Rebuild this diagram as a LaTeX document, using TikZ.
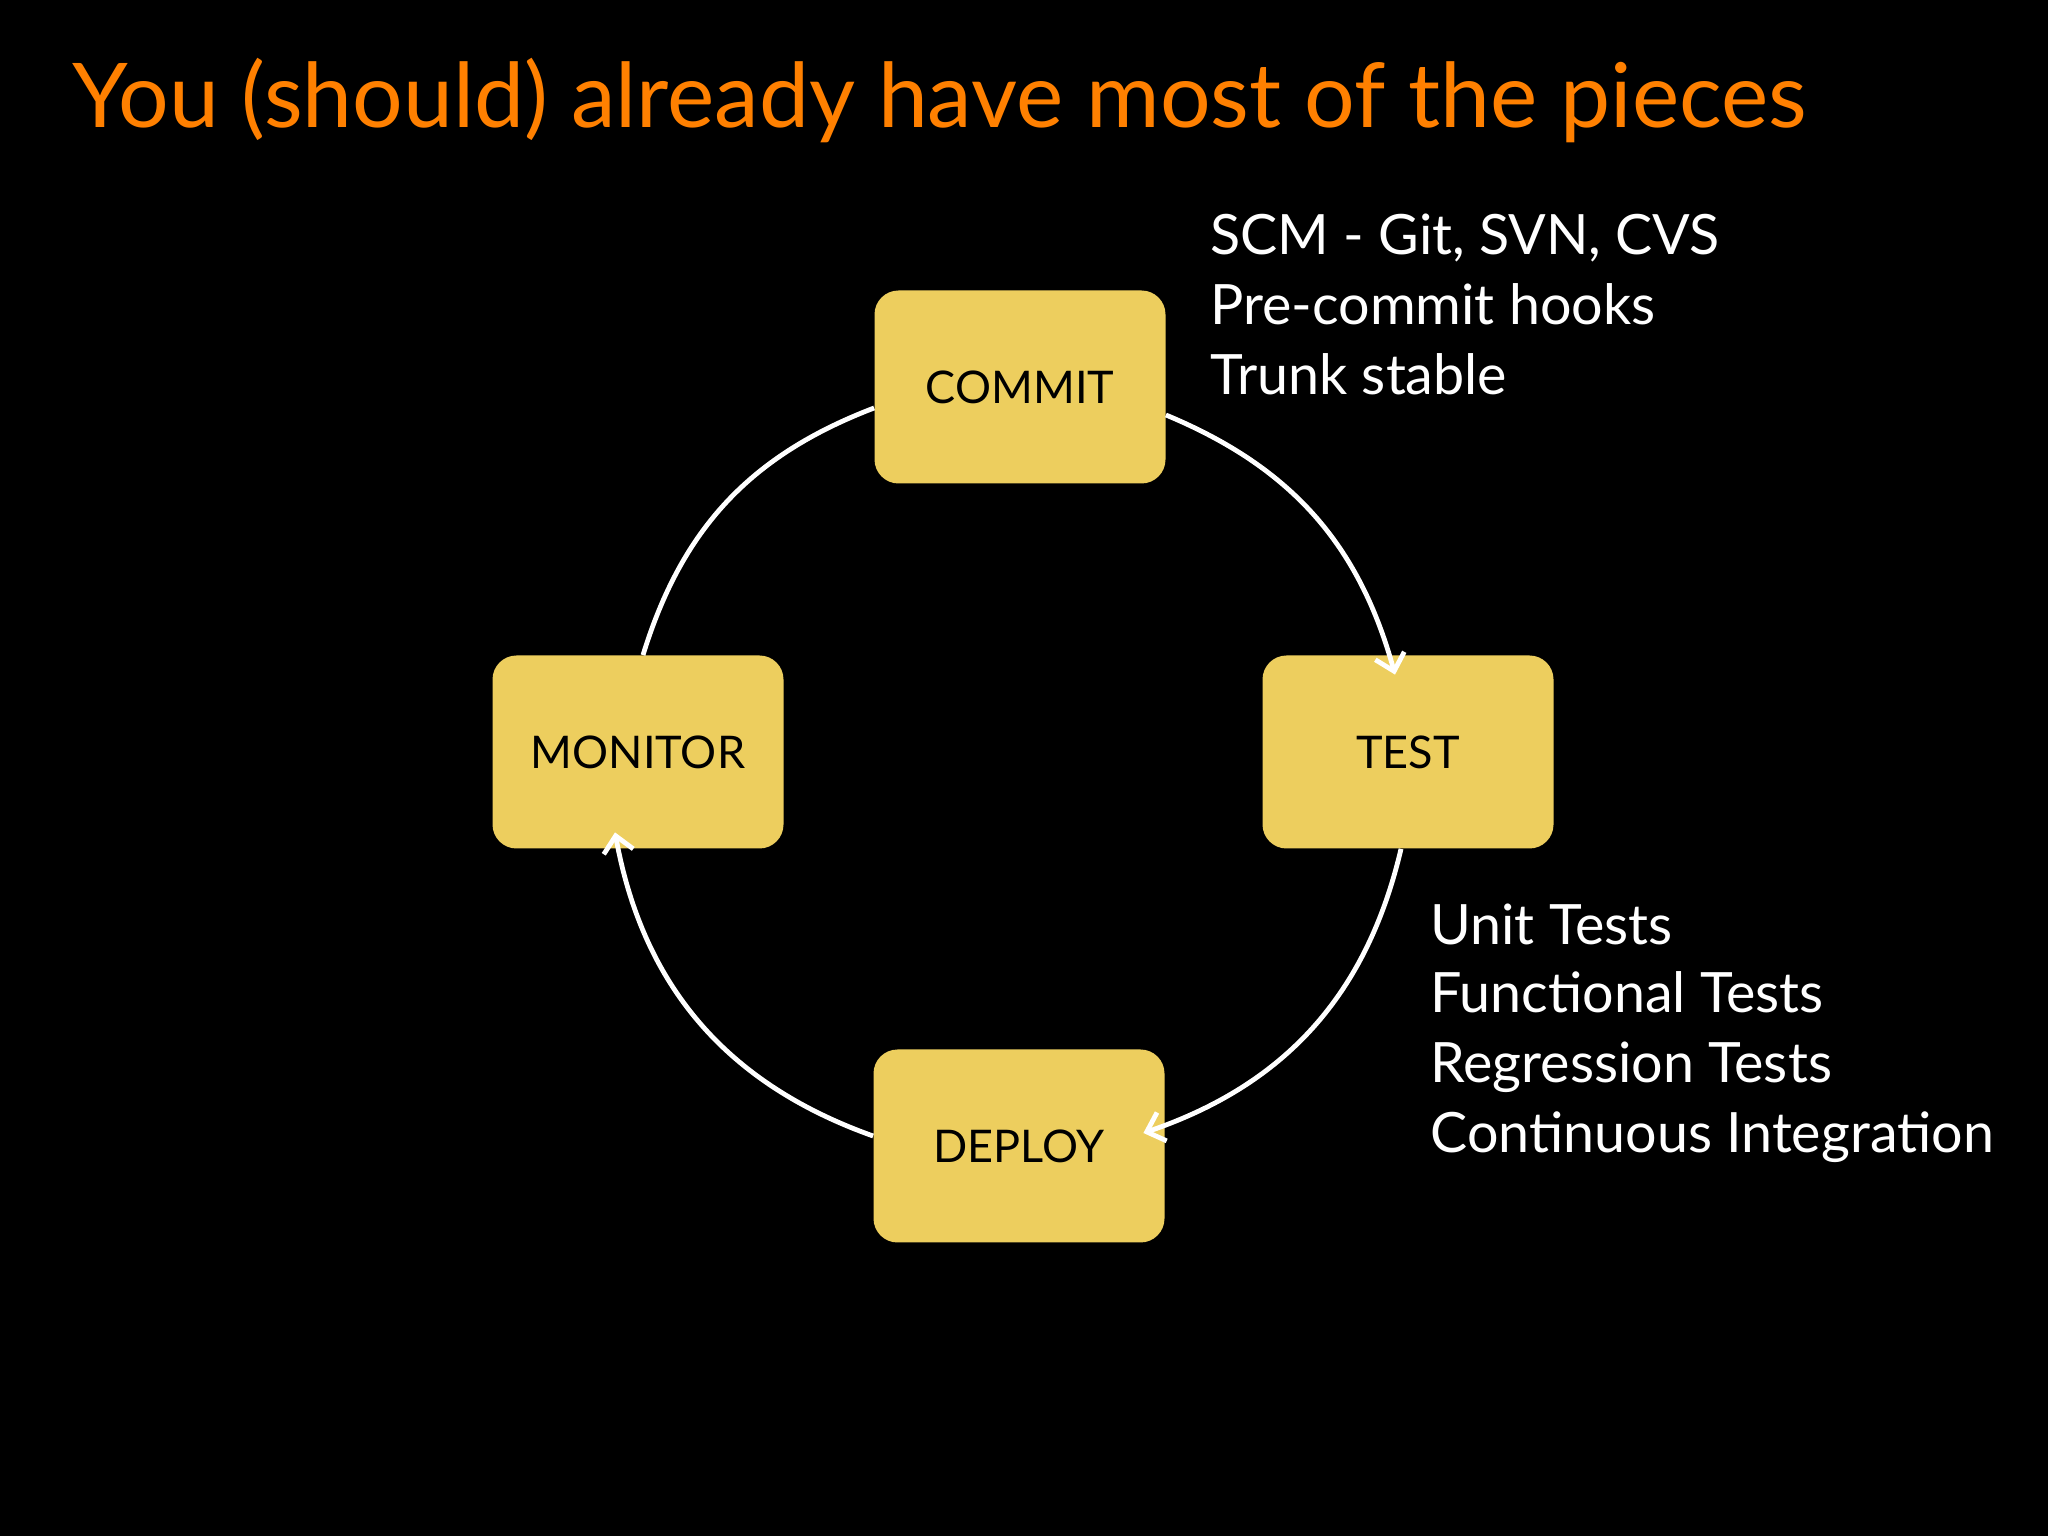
\documentclass[tikz,border=0pt]{standalone}
\usepackage{fontspec}
\setmainfont{Lato}
\usetikzlibrary{arrows.meta}
\definecolor{boxyellow}{RGB}{237,206,94}
\definecolor{titleorange}{RGB}{255,128,0}
\begin{document}
\begin{tikzpicture}[x=0.5pt,y=0.5pt,
  stage/.style={fill=boxyellow, rounded corners=12pt, minimum width=145.5pt, minimum height=96.5pt, inner sep=0pt, font=\fontsize{22.5}{26}\selectfont, text=black},
  flow/.style={draw=white, line width=2.4pt, -{Straight Barb[length=8pt,width=15pt,line width=2.4pt]}},
  loopline/.style={draw=white, line width=2.4pt},
  note/.style={anchor=base west, text=white, font=\fontsize{27.8}{32}\selectfont, inner sep=0pt},
]
\fill[black] (0,0) rectangle (2048,1536);
\useasboundingbox (0,0) rectangle (2048,1536);

\node[anchor=base west, text=titleorange, font=\fontsize{44.7}{50}\selectfont, inner sep=0pt] (title) at (72,1408) {You (should) already have most of the pieces};

\node[stage] (commit) at (1020,1149) {COMMIT};
\node[stage] (test) at (1408,784) {TEST};
\node[stage] (monitor) at (638,784) {MONITOR};
\node[stage] (deploy) at (1019,390) {DEPLOY};

\draw[flow] ([yshift=-14pt]commit.east) to[bend left=26] ([xshift=-6.5pt,yshift=-9.75pt]test.north);
\draw[flow] ([xshift=-3.5pt]test.south) to[bend left=29] ([xshift=-10.75pt,yshift=6.5pt]deploy.east);
\draw[flow] ([yshift=5pt]deploy.west) to[bend left=30] ([xshift=-11.5pt,yshift=8.25pt]monitor.south);
\draw[loopline] ([xshift=2.5pt]monitor.north) to[bend left=26] ([yshift=-10.5pt]commit.west);

\node[note] (scm) at (1210,1281) {SCM - Git, SVN, CVS};
\node[note] (hooks) at (1210,1211) {Pre-commit hooks};
\node[note] (trunk) at (1210,1141) {Trunk stable};

\node[note] (unit) at (1430,591) {Unit Tests};
\node[note] (func) at (1430,523) {Functional Tests};
\node[note] (regr) at (1430,453) {Regression Tests};
\node[note] (ci) at (1430,383) {Continuous Integration};
\end{tikzpicture}
\end{document}
